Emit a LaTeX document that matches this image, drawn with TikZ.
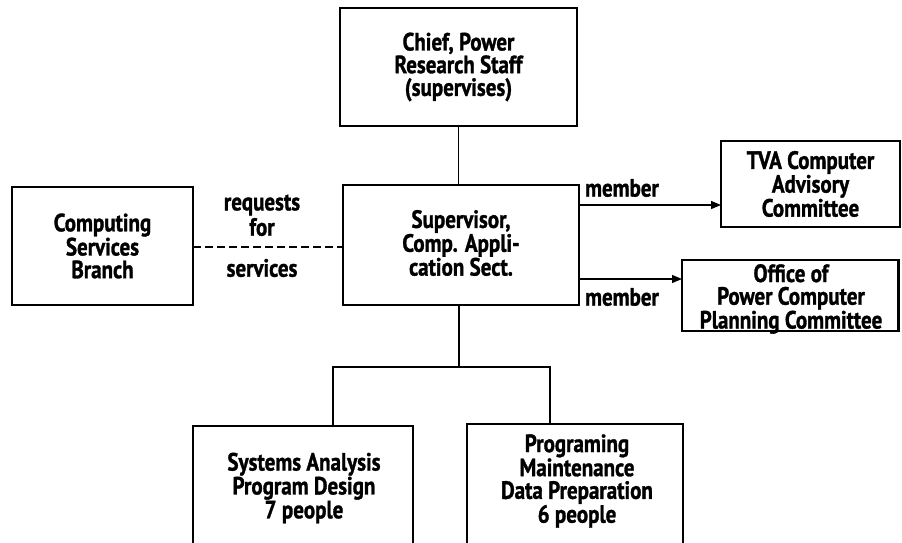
\documentclass[tikz,border=0pt]{standalone}
\usepackage{fontspec}
\setmainfont{PT Sans}[FakeStretch=0.84,BoldFeatures={FakeStretch=0.84,FakeBold=1.2}]
\usetikzlibrary{arrows.meta}
\begin{document}
\begin{tikzpicture}[x=1pt,y=-1pt,
  txt/.style={font=\bfseries\fontsize{25}{22.7}\selectfont,align=center,inner sep=0pt},
  boxline/.style={draw=black,line width=2.8pt},
  conn/.style={draw=black,line width=1.2pt},
  arr/.style={conn,-{Triangle[length=10pt,width=8pt]}}]
\clip (0,0) rectangle (902,543);
\fill[white] (0,0) rectangle (902,543);
% boxes
\draw[boxline] (340,8) rectangle (577,126);
\node[txt] (chief) at (458.5,67) {Chief, Power\\Research Staff\\(supervises)};
\coordinate (chiefS) at (458.5,126);
\draw[boxline] (343,185) rectangle (579,305);
\node[txt] (sup) at (461,243) {Supervisor,\\Comp. Appli-\\cation Sect.};
\coordinate (supN) at (458.5,185);
\coordinate (supS) at (459,305);
\coordinate (supW) at (343,247);
\coordinate (supE1) at (579,205);
\coordinate (supE2) at (579,279);
\draw[boxline] (12,187) rectangle (193,305);
\node[txt] (csb) at (102.5,246) {Computing\\Services\\Branch};
\coordinate (csbE) at (193,247);
\draw[boxline] (721,141) rectangle (900,227);
\node[txt] (tva) at (810.5,184) {TVA Computer\\Advisory\\Committee};
\coordinate (tvaW) at (721,205);
\draw[boxline] (682,260) rectangle (898.5,331);
\node[txt] (office) at (791,299) {Office of\\Power Computer\\Planning Committee};
\coordinate (officeW) at (682,279);
\draw[boxline] (193,426) rectangle (413,560);
\node[txt] (sa) at (304,488) {Systems Analysis\\Program Design\\7 people};
\coordinate (saN) at (333,426);
\draw[boxline] (467,424) rectangle (683,560);
\node[txt] (pm) at (577,481) {Programing\\Maintenance\\Data Preparation\\6 people};
\coordinate (pmN) at (550,424);
% connectors
\draw[conn] (chiefS) -- (supN);
\coordinate (bus) at (459,367);
\draw[conn] (supS) -- (bus);
\draw[conn] (saN) |- (bus) -| (pmN);
\draw[conn,dashed,dash pattern=on 8pt off 4pt] (csbE) -- (supW);
\draw[arr] (supE1) -- (tvaW);
\draw[arr] (supE2) -- (officeW);
% labels
\node[txt] (l1) at (262,205) {requests};
\node[txt] (l2) at (262,227) {for};
\node[txt] (l3) at (262,268) {services};
\node[txt] (m1) at (622,188) {member};
\node[txt] (m2) at (622,297) {member};
\end{tikzpicture}
\end{document}
